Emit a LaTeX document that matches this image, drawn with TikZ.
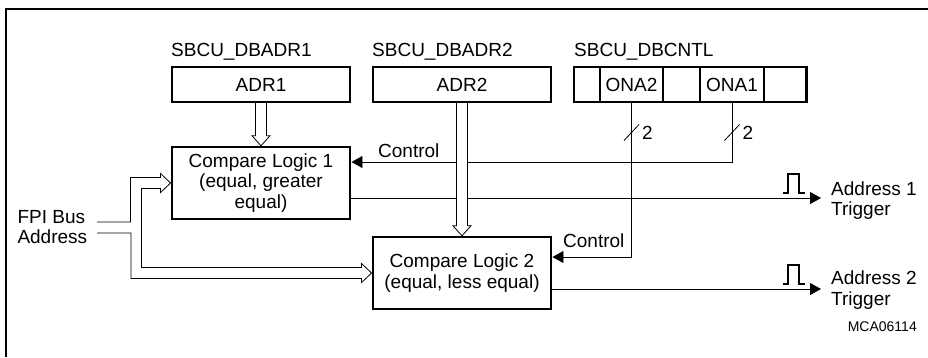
\documentclass[tikz,border=0pt]{standalone}
\usepackage{fontspec}
\setmainfont{Liberation Sans}
\usetikzlibrary{arrows.meta,calc}
\begin{document}
\begin{tikzpicture}[x=1pt,y=-1pt,
  txt/.style={inner sep=0pt,font=\fontsize{19}{20.5}\selectfont},
  reg/.style={txt,draw,line width=2.4pt,minimum height=35pt},
  logic/.style={txt,draw,line width=2.4pt,minimum width=178.5pt,minimum height=72pt,align=center},
  wire/.style={line width=0.8pt},
  sig/.style={wire,-{Triangle[length=11pt,width=12pt]}},
  bus/.style={line width=0.8pt,fill=white},
  pulse/.style={line width=1.8pt},
  frame/.style={line width=1.3pt}
]
\useasboundingbox (0,0) rectangle (928,357);
% frame
\draw[frame] (6,357) -- (6,9) -- (928,9);

% registers
\node[reg,minimum width=178.5pt] (adr1) at (261,84.5) {ADR1};
\node[reg,minimum width=178.5pt] (adr2) at (462,84.5) {ADR2};
\node[reg,minimum width=26pt] (c1) at (587,84.5) {};
\node[reg,minimum width=63pt] (c2) at (631.5,84.5) {ONA2};
\node[reg,minimum width=37pt] (c3) at (681.5,84.5) {};
\node[reg,minimum width=64pt] (c4) at (732,84.5) {ONA1};
\node[reg,minimum width=42.5pt] (c5) at (785.25,84.5) {};

% register titles
\node[txt,anchor=base west] (t1) at (171,56) {SBCU\_DBADR1};
\node[txt,anchor=base west] (t2) at (372,56) {SBCU\_DBADR2};
\node[txt,anchor=base west] (t3) at (574,56) {SBCU\_DBCNTL};

% compare logic blocks
\node[logic] (cl1) at (261,183) {Compare Logic 1\\(equal, greater\\equal)};
\node[logic] (cl2) at (462,273) {Compare Logic 2\\(equal, less equal)};

% control lines
\coordinate (k1) at (732,162);
\coordinate (k2) at (631.5,257);
\draw[sig] (c4.south) -- (k1) -- (k1 -| cl1.east);
\draw[sig] (c2.south) -- (k2) -- (k2 -| cl2.east);
\node[txt,anchor=base west] (ctl1) at (378,157.5) {Control};
\node[txt,anchor=base west] (ctl2) at (563,247.5) {Control};

% bit-width marks
\draw[wire] ($(c2.south |- 0,132.5)+(-7.5,8)$) -- ++(15,-16);
\draw[wire] ($(c4.south |- 0,132.5)+(-7.5,8)$) -- ++(15,-16);
\node[txt,anchor=west] (n2) at (642,132.5) {2};
\node[txt,anchor=west] (n1) at (742.5,132.5) {2};

% outputs
\coordinate (o1) at (821,198);
\coordinate (o2) at (821,289);
\draw[sig] (o1 -| cl1.east) -- (o1);
\draw[sig] (o2 -| cl2.east) -- (o2);
\draw[pulse] ($(o1)+(-38,-5)$) -- ++(5,0) -- ++(0,-19) -- ++(11,0) -- ++(0,19) -- ++(6,0);
\draw[pulse] ($(o2)+(-38,-5)$) -- ++(5,0) -- ++(0,-19) -- ++(11,0) -- ++(0,19) -- ++(6,0);
\node[txt,anchor=west,align=left] (a1) at (831,200.5) {Address 1\\Trigger};
\node[txt,anchor=west,align=left] (a2) at (831,290) {Address 2\\Trigger};

% bus arrows from address registers
\draw[bus] ($(adr1.south)+(-5.5,0)$) -- ($(cl1.north)+(-5.5,-10)$) -- ($(cl1.north)+(-9,-10)$) -- (cl1.north)
  -- ($(cl1.north)+(9,-10)$) -- ($(cl1.north)+(5.5,-10)$) -- ($(adr1.south)+(5.5,0)$);
\draw[bus] ($(adr2.south)+(-5.5,0)$) -- ($(cl2.north)+(-5.5,-10)$) -- ($(cl2.north)+(-9,-10)$) -- (cl2.north)
  -- ($(cl2.north)+(9,-10)$) -- ($(cl2.north)+(5.5,-10)$) -- ($(adr2.south)+(5.5,0)$);

% FPI bus
\node[txt,anchor=west,align=left] (fpitxt) at (17.3,227) {FPI Bus\\Address};
\coordinate (fpi) at (97,227.5);
\draw[bus] ($(fpi)+(0,-5.5)$) -| ($(cl1.west)+(-40,-5.5)$) -- ($(cl1.west)+(-10,-5.5)$)
  -- ($(cl1.west)+(-10,-9.5)$) -- (cl1.west) -- ($(cl1.west)+(-10,9.5)$) -- ($(cl1.west)+(-10,5.5)$)
  -| ($(cl2.west)+(-230,-5.5)$) -- ($(cl2.west)+(-10,-5.5)$)
  -- ($(cl2.west)+(-10,-9.5)$) -- (cl2.west) -- ($(cl2.west)+(-10,9.5)$) -- ($(cl2.west)+(-10,5.5)$)
  -| ($(fpi)+(34,5.5)$) -- ($(fpi)+(0,5.5)$);

% figure id
\node[inner sep=0pt,font=\fontsize{14}{16}\selectfont,anchor=east] (mca) at (917,327) {MCA06114};
\end{tikzpicture}
\end{document}
